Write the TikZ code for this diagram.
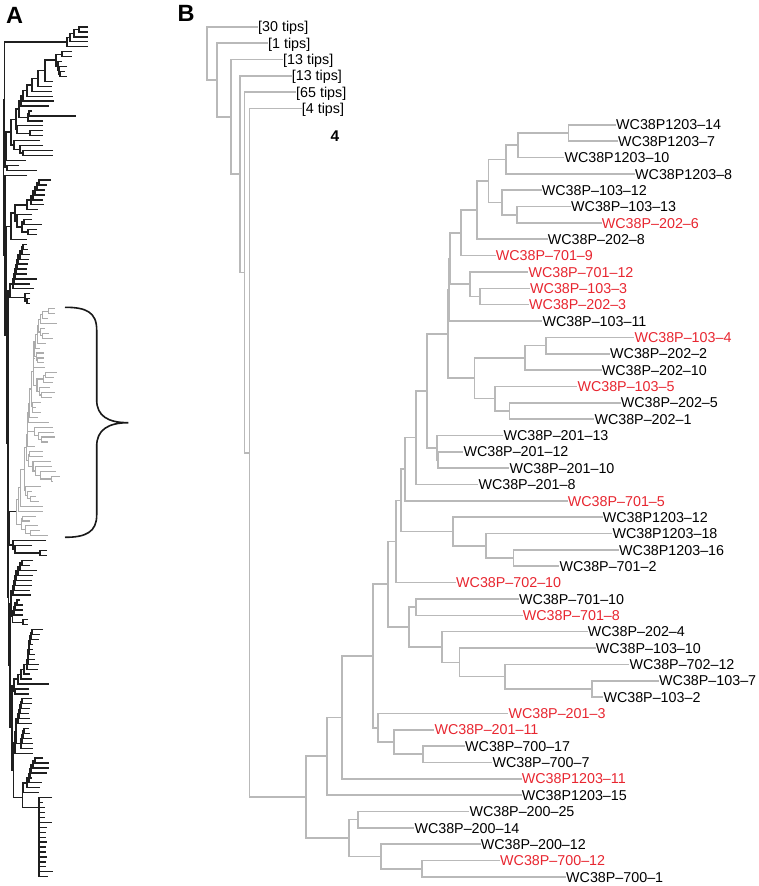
\documentclass[tikz,border=0pt]{standalone}
\usepackage{fontspec}
\newfontfamily\labfont{Liberation Sans}
\definecolor{tipred}{RGB}{232,38,48}
\definecolor{bgray}{RGB}{185,185,185}
\definecolor{agray}{RGB}{172,172,172}
\tikzset{
  lab/.style={anchor=west, inner xsep=0pt, inner ysep=0pt, text height=10.3pt, text depth=0pt,
    font=\labfont\fontsize{14.3}{14.3}\selectfont},
  panel/.style={font=\labfont\bfseries\fontsize{23.5}{23.5}\selectfont, inner sep=0pt},
}
% ladder: start index, first tip end, list nodeX/tipEnd
\newcommand\TreeLad[3]{%
  \xdef\ladX{#2}\xdef\ladY{#1}\xdef\ladI{#1}%
  \foreach \nx/\te in {#3}{%
    \pgfmathsetmacro\ladJ{\ladI+1}%
    \pgfmathsetmacro\ladNY{(\ladY+\ladJ)/2}%
    \draw[aline] (\ladX,\ladY) -| (\nx,\ladJ) -- (\te,\ladJ);%
    \xdef\ladX{\nx}\xdef\ladY{\ladNY}\xdef\ladI{\ladJ}%
  }%
}
% join: node x, child1 x,y, child2 x,y
\newcommand\TreeJoin[5]{%
  \draw[aline] (#2,#3) -| (#1,#5) -- (#4,#5);%
  \pgfmathsetmacro\ladNY{(#3+#5)/2}%
  \xdef\ladY{\ladNY}\xdef\ladX{#1}%
}
\newcommand\TreeSave[1]{%
  \expandafter\xdef\csname #1X\endcsname{\ladX}%
  \expandafter\xdef\csname #1Y\endcsname{\ladY}}
% the 47-tip clade (x in panel-B pixels, y in tip index)
\newcommand\CladeDraw[1]{%
  \foreach \cn/\cx/\cy in {t1/616/6,t2/618/7,t3/564.3/8,t4/635/9,t5/541.7/10,t6/571/11,t7/601.7/12,
    t8/547.7/13,t9/495.7/14,t10/528.3/15,t11/530/16,t12/529/17,t13/542.3/18,t14/634.3/19,t15/610/20,
    t16/601.7/21,t17/577.3/22,t18/620.7/23,t19/594.3/24,t20/503.3/25,t21/463.3/26,t22/509.3/27,
    t23/478.3/28,t24/567.7/29,t25/602.7/30,t26/612.3/31,t27/619/32,t28/559.3/33,t29/456/34,
    t30/519/35,t31/522.7/36,t32/587.7/37,t33/595.7/38,t34/629.3/39,t35/659/40,t36/603.3/41,
    t37/508.3/42,t38/434.3/43,t39/465/44,t40/492.3/45,t41/521.7/46,t42/521.7/47,t43/469.3/48,
    t44/414.3/49,t45/480.7/50,t46/500/51,t47/566/52}{\coordinate (#1\cn) at (\cx,\cy);}
  \foreach \cn/\cx/\cy in {a/568.3/6.5,b/517.7/7.25,c/506/8.125,f/516.7/11.5,e/501.7/10.75,
    d/488.3/9.4375,g/476.7/11.2188,h/461/12.6094,j/480/16.5,i/470/15.75,n/450/14.1797,
    o/449/16.0898,r/545.7/19.5,s/525/20.25,tt/509.3/23.5,u/495/22.75,q/474.3/21.5,p/448/18.7949,
    kk/438/26.5,w/436.7/25.75,v/426.7/22.2725,xa/416/25.1362,xb/405/27.0681,yc/513.3/32.5,
    yb/486/31.75,ya/452.7/30.875,xc/400.7/28.9716,xd/396/31.4858,zb/416/35.5,zf/591.7/40.5,
    ze/505/39.75,zd/459.3/38.875,zc/441.7/37.9375,za/409/36.7188,xe/388/34.1023,cc/423/44.5,
    cb/394/43.75,ca/378/42.875,xf/373/38.4886,xg/341.7/42.2443,xh/326.7/44.6222,bb/358/48.5,
    bd/421.7/51.5,bc/381/50.75,ba/348.7/49.625,root/306/47.1236}{\coordinate (#1\cn) at (\cx,\cy);}
  \foreach \pp/\cc in {a/t1,a/t2,b/a,b/t3,c/b,c/t4,f/t6,f/t7,e/t5,e/f,d/c,d/e,g/d,g/t8,h/g,h/t9,
    j/t11,j/t12,i/t10,i/j,n/h,n/i,o/n,o/t13,r/t14,r/t15,s/r,s/t16,tt/t18,tt/t19,u/t17,u/tt,q/s,q/u,
    p/o,p/q,kk/t21,kk/t22,w/t20,w/kk,v/p,v/w,xa/v,xa/t23,xb/xa,xb/t24,yc/t27,yc/t28,yb/t26,yb/yc,
    ya/t25,ya/yb,xc/xb,xc/ya,xd/xc,xd/t29,zb/t30,zb/t31,zf/t35,zf/t36,ze/t34,ze/zf,zd/t33,zd/ze,
    zc/t32,zc/zd,za/zb,za/zc,xe/xd,xe/za,cc/t39,cc/t40,cb/t38,cb/cc,ca/t37,ca/cb,xf/xe,xf/ca,
    xg/xf,xg/t41,xh/xg,xh/t42,bb/t43,bb/t44,bd/t46,bd/t47,bc/t45,bc/bd,ba/bb,ba/bc,root/xh,root/ba}
    {\draw[cline] (#1\pp) |- (#1\cc);}
}
\begin{document}
\begin{tikzpicture}[x=1pt,y=1pt]
\fill[white] (0,0) rectangle (758,-886);
\useasboundingbox (0,0) rectangle (758,-886);

% ---------- panel labels ----------
\node[panel] (pA) at (14.5,-15.5) {A};
\node[panel] (pB) at (186,-13.5) {B};

% ---------- panel A: gray clade ----------
\begin{scope}[x=0.124pt, y=-4.94pt, shift={(-21.8pt,-278.94pt)},
  cline/.style={draw=agray, line width=1.1pt}]
  \CladeDraw{A}
\end{scope}

% ---------- panel A: black tree ----------
\begin{scope}[x=1pt, y=-4.94pt, shift={(0pt,-27pt)},
  aline/.style={draw=black!88, line width=1.3pt}]
% clade of 30
\TreeLad{0}{88}{79/88,74/88,70/88,67/88}\TreeSave{Ga}
\TreeLad{5}{72}{62/72}\TreeSave{Ca}
\TreeLad{9}{65}{60/67}
\TreeJoin{59}{67}{8}{\ladX}{\ladY}
\TreeJoin{58}{62}{7}{\ladX}{\ladY}
\TreeJoin{56}{\CaX}{\CaY}{\ladX}{\ladY}
\TreeJoin{45}{\ladX}{\ladY}{53}{11}
\TreeJoin{38}{\ladX}{\ladY}{52}{12}
\TreeJoin{32}{\ladX}{\ladY}{52}{13}
\TreeJoin{27}{\ladX}{\ladY}{53}{14}
\TreeJoin{23}{\ladX}{\ladY}{54}{15}
\TreeJoin{21}{\ladX}{\ladY}{49}{16}\TreeSave{Cb}
\TreeLad{17}{32}{29/76}
\TreeJoin{28}{\ladX}{\ladY}{43}{19}
\TreeJoin{19}{\CbX}{\CbY}{\ladX}{\ladY}\TreeSave{Cc}
\TreeLad{21}{43}{30/43}
\TreeJoin{17}{43}{20}{\ladX}{\ladY}
\TreeJoin{16}{\CcX}{\CcY}{\ladX}{\ladY}\TreeSave{Cd}
\TreeLad{25}{53}{23/53}
\TreeJoin{20}{43}{24}{\ladX}{\ladY}
\TreeJoin{14}{40}{23}{\ladX}{\ladY}
\TreeJoin{11}{\CdX}{\CdY}{\ladX}{\ladY}
\TreeJoin{6}{\ladX}{\ladY}{26}{27}\TreeSave{Ce}
\TreeLad{28}{19}{7/37}
\TreeJoin{5}{\CeX}{\CeY}{\ladX}{\ladY}
\TreeJoin{4.3}{\GaX}{\GaY}{\ladX}{\ladY}\TreeSave{Ta}
% clade of 13 (a)
\TreeLad{31}{51}{39/47,37/45,35/45,33/43,31/44,27/38}\TreeSave{Da}
\TreeLad{39}{32}{24/42}\TreeSave{Db}
\TreeLad{41}{37}{28/37}
\TreeJoin{22}{\DbX}{\DbY}{\ladX}{\ladY}
\TreeJoin{17}{32}{38}{\ladX}{\ladY}
\TreeJoin{15}{\DaX}{\DaY}{\ladX}{\ladY}
\TreeJoin{11}{\ladX}{\ladY}{27}{43}\TreeSave{Tc}
% clade of 13 (b)
\TreeLad{44}{27}{23/28,22/30,20/29,18/28,17/27,16/27,15/37,14/30,13/34}\TreeSave{Ea}
\TreeLad{55}{30}{27/30}
\TreeJoin{25}{30}{54}{\ladX}{\ladY}
\TreeJoin{10}{\EaX}{\EaY}{\ladX}{\ladY}\TreeSave{Td}
% clade of 4
\TreeLad{106}{47}{40/47}
\TreeJoin{15}{32}{105}{\ladX}{\ladY}
\TreeJoin{13}{46}{104}{\ladX}{\ladY}\TreeSave{Tf}
\TreeJoin{9.11}{16.144}{98.1236}{\TfX}{\TfY}\TreeSave{Rf}
% clade of 65
\TreeLad{108}{33}{22/30,20/37,18/33,16/32,15/32,14/30,13/31}\TreeSave{Ha}
\TreeLad{116}{20}{17/23,15/23,14/23}\TreeSave{Hb}
\TreeLad{120}{28}{23/28}
\TreeJoin{12.5}{\HbX}{\HbY}{\ladX}{\ladY}\TreeSave{Hb}
\TreeJoin{11}{\HaX}{\HaY}{\HbX}{\HbY}\TreeSave{Hab}
\TreeLad{122}{43}{32/40,31/39,30/33,29/33,29/35,28/35,28/39,27/38,24/30,21/32}
\TreeJoin{18}{\ladX}{\ladY}{49}{133}\TreeSave{Hc}
\TreeLad{134}{29}{15/29}
\TreeJoin{14}{\HcX}{\HcY}{\ladX}{\ladY}\TreeSave{Hcd}
\TreeLad{136}{32}{22/32,21/30,20/29,19/30,18/32}\TreeSave{Hea}
\TreeLad{142}{29}{24/30,23/32,22/33,21/33}
\TreeJoin{16}{\HeaX}{\HeaY}{\ladX}{\ladY}
\TreeJoin{15}{\ladX}{\ladY}{33}{147}\TreeSave{He}
\TreeLad{148}{43}{35/49,33/49,31/47,30/32,29/42,27/40,23/39}\TreeSave{Hf}
\TreeLad{156}{52}{39/43,39/45,39/45,39/45,39/52,39/47,39/46,39/46,39/47,39/46,39/46,39/47,39/46,39/46,39/53,39/48}
\xdef\ladY{158}
\TreeJoin{22.7}{\HfX}{\HfY}{\ladX}{\ladY}
\TreeJoin{13.5}{\HeX}{\HeY}{\ladX}{\ladY}
\TreeJoin{12}{\HcdX}{\HcdY}{\ladX}{\ladY}
\TreeJoin{10}{\HabX}{\HabY}{\ladX}{\ladY}\TreeSave{Tg}
% spine
\TreeJoin{8.49}{\RfX}{\RfY}{\TgX}{\TgY}\TreeSave{Re}
\TreeJoin{7.96}{\TdX}{\TdY}{\ReX}{\ReY}\TreeSave{Rd}
\TreeJoin{6.81}{\TcX}{\TcY}{\RdX}{\RdY}\TreeSave{Rc}
\TreeJoin{5.07}{27}{30}{\RcX}{\RcY}\TreeSave{Rb}
\TreeJoin{3.5}{\TaX}{\TaY}{\RbX}{\RbY}
\end{scope}

% brace
\draw[line width=1.6pt, black!90] (65,-307.3) .. controls (86,-307.3) and (96.7,-312) .. (96.7,-330)
  -- (96.7,-400) .. controls (96.7,-416) and (108,-422.7) .. (128.3,-422.7)
  .. controls (108,-422.7) and (96.7,-430) .. (96.7,-446)
  -- (96.7,-515) .. controls (96.7,-532) and (86,-537.3) .. (65,-537.3);

% ---------- panel B ----------
\begin{scope}[x=1pt, y=-16.35pt, shift={(0pt,-26.7pt)},
  cline/.style={draw=bgray, line width=1.6pt}]
  \CladeDraw{B}
  \coordinate (R0) at (206.7,1.6269);
  \coordinate (R1) at (216.7,3.2539);
  \coordinate (R2) at (230.7,5.5077);
  \coordinate (R3) at (240,9.0154);
  \coordinate (R4) at (244.3,15.0309);
  \coordinate (R5) at (249.3,26.0618);
  \node[lab] (k30) at (258,0) {[30 tips]};
  \node[lab] (k1) at (268,1) {[1 tips]};
  \node[lab] (k13a) at (283,2) {[13 tips]};
  \node[lab] (k13b) at (291.7,3) {[13 tips]};
  \node[lab] (k65) at (296,4) {[65 tips]};
  \node[lab] (k4) at (301.7,5) {[4 tips]};
  \draw[cline] (R0) |- (k30.west);
  \draw[cline] (R0) |- (R1);
  \draw[cline] (R1) |- (k1.west);
  \draw[cline] (R1) |- (R2);
  \draw[cline] (R2) |- (k13a.west);
  \draw[cline] (R2) |- (R3);
  \draw[cline] (R3) |- (k13b.west);
  \draw[cline] (R3) |- (R4);
  \draw[cline] (R4) |- (k65.west);
  \draw[cline] (R4) |- (R5);
  \draw[cline] (R5) |- (k4.west);
  \draw[cline] (R5) |- (Broot);
  \foreach \k/\txt/\col in {1/WC38P1203–14/black,2/WC38P1203–7/black,3/WC38P1203–10/black,
    4/WC38P1203–8/black,5/WC38P–103–12/black,6/WC38P–103–13/black,7/WC38P–202–6/tipred,
    8/WC38P–202–8/black,9/WC38P–701–9/tipred,10/WC38P–701–12/tipred,11/WC38P–103–3/tipred,
    12/WC38P–202–3/tipred,13/WC38P–103–11/black,14/WC38P–103–4/tipred,15/WC38P–202–2/black,
    16/WC38P–202–10/black,17/WC38P–103–5/tipred,18/WC38P–202–5/black,19/WC38P–202–1/black,
    20/WC38P–201–13/black,21/WC38P–201–12/black,22/WC38P–201–10/black,23/WC38P–201–8/black,
    24/WC38P–701–5/tipred,25/WC38P1203–12/black,26/WC38P1203–18/black,27/WC38P1203–16/black,
    28/WC38P–701–2/black,29/WC38P–702–10/tipred,30/WC38P–701–10/black,31/WC38P–701–8/tipred,
    32/WC38P–202–4/black,33/WC38P–103–10/black,34/WC38P–702–12/black,35/WC38P–103–7/black,
    36/WC38P–103–2/black,37/WC38P–201–3/tipred,38/WC38P–201–11/tipred,39/WC38P–700–17/black,
    40/WC38P–700–7/black,41/WC38P1203–11/tipred,42/WC38P1203–15/black,43/WC38P–200–25/black,
    44/WC38P–200–14/black,45/WC38P–200–12/black,46/WC38P–700–12/tipred,47/WC38P–700–1/black}
    {\node[lab, text=\col] (L\k) at (Bt\k) {\txt};}
\end{scope}
\node[font=\labfont\bfseries\fontsize{15.5}{15.5}\selectfont, inner sep=0pt] (four) at (335,-136.5) {4};
\end{tikzpicture}
\end{document}
